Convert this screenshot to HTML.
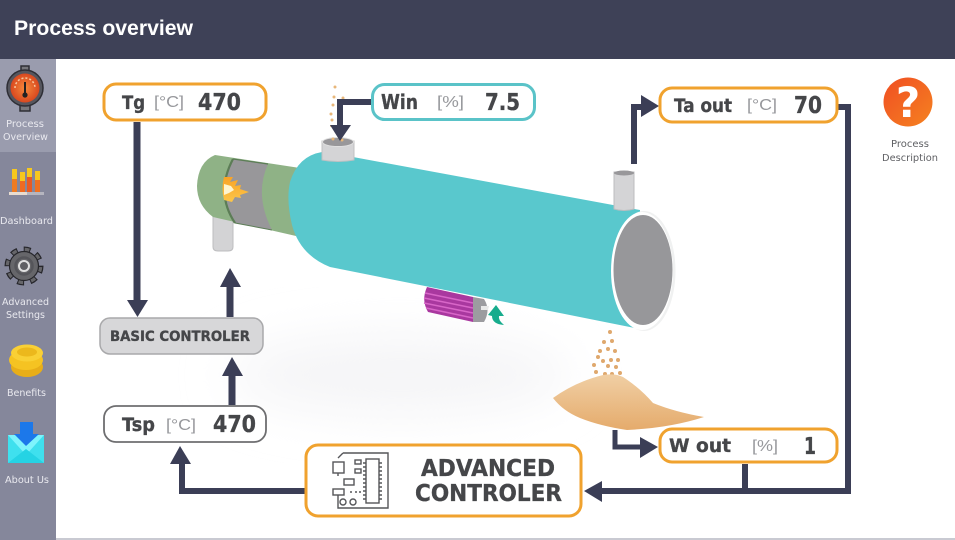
<!DOCTYPE html>
<html><head><meta charset="utf-8"><style>
html,body{margin:0;padding:0;background:#fff;width:955px;height:540px;overflow:hidden}
svg{display:block;font-family:"DejaVu Sans","Liberation Sans",sans-serif}
</style></head><body>
<svg width="955" height="540" viewBox="0 0 955 540" xmlns="http://www.w3.org/2000/svg">
<defs>
<linearGradient id="sand" x1="0" y1="0" x2="0" y2="1"><stop offset="0" stop-color="#f0cfa4"/><stop offset="1" stop-color="#e5ab6c"/></linearGradient>
<linearGradient id="q" x1="0" y1="0" x2="1" y2="1"><stop offset="0" stop-color="#f04e23"/><stop offset="1" stop-color="#f58220"/></linearGradient>
<radialGradient id="gauge"><stop offset="0" stop-color="#f58a3c"/><stop offset="1" stop-color="#d9481f"/></radialGradient>
<linearGradient id="flame" x1="0" y1="0" x2="0" y2="1"><stop offset="0" stop-color="#f9a326"/><stop offset="1" stop-color="#fcc64a"/></linearGradient>
<filter id="b" x="-30%" y="-60%" width="160%" height="220%"><feGaussianBlur stdDeviation="24"/></filter>
</defs>

<rect width="955" height="540" fill="#fff"/>
<!-- header -->
<rect width="955" height="59" fill="#3e4157"/>
<text x="14" y="35" font-family="Liberation Sans" font-size="21.5" font-weight="700" fill="#fff" textLength="179" lengthAdjust="spacingAndGlyphs">Process overview</text>

<!-- sidebar -->
<rect y="59" width="56" height="481" fill="#85879b"/>
<rect y="59" width="56" height="93" fill="#9a9cae"/>
<!-- gauge -->
<rect x="20" y="104" width="10" height="7" fill="#77777c" stroke="#2e2e35" stroke-width="1.500"/>
<rect x="21" y="66" width="8" height="5" fill="#77777c" stroke="#2e2e35" stroke-width="1.500"/>
<circle cx="25" cy="88" r="18" fill="#55565e" stroke="#2e2e35" stroke-width="1.500"/>
<circle cx="25" cy="88" r="14.500" fill="url(#gauge)"/>
<path d="M15 88a10 10 0 0 1 20 0" fill="none" stroke="#f7c9a0" stroke-width="1.500" stroke-dasharray="2 2"/>
<rect x="24" y="82" width="2" height="13" fill="#222"/><circle cx="25" cy="95" r="2.600" fill="#222"/>
<g font-size="10" fill="#e9e9ef">
<text x="6" y="127" textLength="38" lengthAdjust="spacingAndGlyphs">Process</text>
<text x="3" y="140" textLength="45" lengthAdjust="spacingAndGlyphs">Overview</text>
<text x="0" y="224" textLength="53" lengthAdjust="spacingAndGlyphs">Dashboard</text>
<text x="2" y="305" textLength="47" lengthAdjust="spacingAndGlyphs">Advanced</text>
<text x="6" y="318" textLength="39" lengthAdjust="spacingAndGlyphs">Settings</text>
<text x="7" y="396" textLength="39" lengthAdjust="spacingAndGlyphs">Benefits</text>
<text x="5" y="483" textLength="44" lengthAdjust="spacingAndGlyphs">About Us</text>
</g>
<!-- dashboard -->
<g>
<rect x="12" y="169" width="5" height="23" fill="#ee7b22"/><rect x="12" y="169" width="5" height="10" fill="#f7c81e"/>
<rect x="20" y="172" width="5" height="20" fill="#ee6a22"/><rect x="20" y="172" width="5" height="9" fill="#f7c81e"/>
<rect x="27" y="168" width="5" height="24" fill="#ea5a22"/><rect x="27" y="168" width="5" height="9" fill="#f7c81e"/>
<rect x="35" y="171" width="5" height="21" fill="#ee7022"/><rect x="35" y="171" width="5" height="9" fill="#f7c81e"/>
<rect x="9" y="192" width="18" height="3" fill="#e8dcd0"/><rect x="27" y="192" width="17" height="3" fill="#b5b5bf"/>
</g>
<!-- gear -->
<circle cx="24" cy="266" r="16" fill="none" stroke="#26262b" stroke-width="7" stroke-dasharray="6.500 6"/>
<circle cx="24" cy="266" r="16" fill="none" stroke="#66666a" stroke-width="4.500" stroke-dasharray="4.500 8" stroke-dashoffset="-1"/>
<circle cx="24" cy="266" r="14.500" fill="#66666a" stroke="#26262b" stroke-width="1.200"/>
<circle cx="24" cy="266" r="8.500" fill="none" stroke="#55555a" stroke-width="2.500"/>
<circle cx="24" cy="266" r="5" fill="#606064" stroke="#e0e0e0" stroke-width="2"/>
<!-- coins -->
<ellipse cx="27" cy="367" rx="16" ry="10" fill="#e8ae18"/>
<ellipse cx="26" cy="360" rx="17" ry="10" fill="#f5c322"/>
<ellipse cx="27" cy="353" rx="16" ry="8.500" fill="#f9d035"/>
<ellipse cx="27" cy="352" rx="10" ry="4.500" fill="#ecb81c"/>
<!-- mail -->
<rect x="8" y="435" width="36" height="28" fill="#3fe0ee"/>
<path d="M8 435h36l-18 20z" fill="#7ef4fc"/>
<path d="M8 463l18-14 18 14z" fill="#25d3e4"/>
<path d="M20 422h13v12h6L26 446 14 434h6z" fill="#1c78ea"/>
<rect x="56" y="538" width="899" height="2" fill="#c9cad2"/>

<!-- soft shadow -->
<ellipse cx="400" cy="375" rx="170" ry="40" fill="#f5f5f7" filter="url(#b)"/>

<!-- lower pipe behind burner -->
<path d="M213 205 H233 V247 Q233 251 228 251 H218 Q213 251 213 247Z" fill="#d3d3d5" stroke="#bdbdbf"/>
<!-- burner -->
<path d="M215 155 L300 168 L296 236 L213 217 Q197 205 197 186 Q198 162 215 155Z" fill="#8fb286"/>
<path d="M233 159 L268 164 Q254 195 272 230 L235 223 Q215 193 233 159Z" fill="#98979a"/>
<path d="M233 159 Q215 193 235 223" fill="none" stroke="#5c7d56" stroke-width="2.200"/>
<path d="M233 159 L268 164" fill="none" stroke="#5c7d56" stroke-width="1.300"/>
<path d="M235 223 L272 230" fill="none" stroke="#5c7d56" stroke-width="1"/>
<path d="M224 177 L233 177 L230 182 L238 180 L235 186 L241 185 L240 189 L249 192 L240 195 L241 198 L235 197 L232 202 L224 200 Q221 188 224 177Z" fill="url(#flame)"/>
<path d="M224 184 L231 186 L234 190 L229 193 L224 195Z" fill="#fff5cf"/>

<!-- drum -->
<path d="M322 152 Q340 152 353 157 L640 210 L640 329 L330 267 Q300 255 292 225 Q286 200 290 182 Q298 156 322 152Z" fill="#59c8cd"/>
<ellipse cx="644" cy="271" rx="31.500" ry="60" fill="#f0f1f1"/>
<ellipse cx="642" cy="271" rx="31" ry="59" fill="#fff"/>
<ellipse cx="643" cy="270" rx="29.500" ry="55" fill="#97979a"/>

<!-- top inlet -->
<path d="M322 141 V160 Q338 163 354 160 V141Z" fill="#d4d4d6" stroke="#c0c0c2"/>
<ellipse cx="338" cy="142" rx="15.500" ry="4.500" fill="#98979a" stroke="#e0e0e0"/>
<!-- top outlet -->
<path d="M614 172 V209 Q624 212 634 209 V172Z" fill="#d4d4d6" stroke="#bdbdbf"/>
<ellipse cx="624" cy="173" rx="10" ry="2.500" fill="#98979a"/>

<!-- motor -->
<path d="M427 287 L473 297 L473 322 L428 312 Q421 300 427 287Z" fill="#a9389f"/>
<path d="M425 293 L473 303M424 298 L473 308M424 303 L473 313M426 308 L473 318" stroke="#d866c8" stroke-width="1.500"/>
<path d="M473 297 L484 299 Q491 310 484 322 L473 322 Z" fill="#9c9ca0"/>
<path d="M481 306 L489 306 L488 310 L481 310Z" fill="#e8e8e8"/>
<path d="M496 305 L504 316 L499 316 Q498 320 504 325 Q492 324 492 316 L488 315Z" fill="#17ac8d"/>

<!-- particles top -->
<g fill="#e8b77a">
<circle cx="335" cy="87" r="1.500"/><circle cx="334" cy="97" r="1.500"/><circle cx="343" cy="98" r="1.500"/><circle cx="333" cy="105" r="1.500"/><circle cx="331" cy="114" r="1.500"/><circle cx="332" cy="120" r="1.500"/><circle cx="331" cy="126" r="1"/><circle cx="342" cy="140" r="1.500"/><circle cx="333" cy="139" r="1.500"/>
</g>
<!-- particles bottom -->
<g fill="#dfa86d">
<circle cx="610" cy="332" r="2"/><circle cx="604" cy="342" r="2"/><circle cx="612" cy="341" r="2"/><circle cx="600" cy="351" r="2"/><circle cx="608" cy="349" r="2"/><circle cx="615" cy="351" r="2"/><circle cx="598" cy="357" r="2"/><circle cx="603" cy="361" r="2"/><circle cx="611" cy="360" r="2"/><circle cx="618" cy="360" r="2"/><circle cx="594" cy="365" r="2"/><circle cx="608" cy="366" r="2"/><circle cx="616" cy="367" r="2"/><circle cx="596" cy="372" r="2"/><circle cx="605" cy="374" r="2"/><circle cx="612" cy="374" r="2"/><circle cx="620" cy="373" r="2"/>
</g>
<!-- sand -->
<path d="M553 398 Q575 382 603 375 Q615 373 623 377 Q640 388 653 403 Q675 412 704 417 Q670 428 627 430 Q600 426 580 418 Q563 411 553 398Z" fill="url(#sand)"/>

<!-- connectors -->
<g fill="none" stroke="#3b3e56" stroke-width="7">
<path d="M137 122 V302"/>
<path d="M230 317 V286"/>
<path d="M232 405 V374"/>
<path d="M634 164 V107 H645" stroke-width="6"/>
<path d="M838 107 H848 V491 H600" stroke-width="6"/>
<path d="M745 464 V491" stroke-width="6"/>
<path d="M305 491 H182 V464" stroke-width="6"/>
<path d="M371 102 H340 V126" stroke-width="6"/>
<path d="M615 430 V447 H640" stroke-width="5"/>
</g>
<g fill="#3b3e56">
<path d="M127 300 H148 L137.500 317Z"/>
<path d="M220 287 H241 L230 268Z"/>
<path d="M222 376 H243 L232 357Z"/>
<path d="M641 95 L659 106 L641 117Z"/>
<path d="M330 125 H351 L340 141Z"/>
<path d="M640 437 L658 447 L640 458Z"/>
<path d="M602 481 L584 491 L602 502Z"/>
<path d="M170 464 H191 L180 446Z"/>
</g>

<!-- boxes -->
<g fill="#fff" stroke-width="3">
<rect x="104" y="84" width="162" height="36" rx="12" stroke="#f0a22e"/>
<rect x="372.500" y="84.500" width="162" height="35" rx="12" stroke="#5ac3c8"/>
<rect x="660" y="88" width="177" height="34" rx="12" stroke="#f0a22e"/>
<rect x="660" y="429" width="177" height="33" rx="12" stroke="#f0a22e"/>
<rect x="104" y="406" width="162" height="36" rx="12" stroke="#6e6e70" stroke-width="1.800"/>
<rect x="306" y="445" width="275" height="71" rx="12" stroke="#f0a22e"/>
</g>
<rect x="100" y="318" width="163" height="36" rx="10" fill="#d7d7d9" stroke="#a9a9ab" stroke-width="1.500"/>

<!-- box text -->
<g fill="#454649" font-weight="700" stroke="#454649" stroke-width=".35">
<text x="122" y="109" font-size="19" textLength="23" lengthAdjust="spacingAndGlyphs">Tg</text>
<text x="198" y="110" font-size="23" textLength="43" lengthAdjust="spacingAndGlyphs">470</text>
<text x="381" y="109" font-size="20" textLength="37" lengthAdjust="spacingAndGlyphs">Win</text>
<text x="485" y="110" font-size="23" textLength="35" lengthAdjust="spacingAndGlyphs">7.5</text>
<text x="674" y="112" font-size="19" textLength="58" lengthAdjust="spacingAndGlyphs">Ta out</text>
<text x="794" y="113" font-size="23" textLength="28" lengthAdjust="spacingAndGlyphs">70</text>
<text x="669" y="452" font-size="19" textLength="62" lengthAdjust="spacingAndGlyphs">W out</text>
<text x="804" y="454" font-size="23" textLength="12" lengthAdjust="spacingAndGlyphs">1</text>
<text x="122" y="431" font-size="19" textLength="33" lengthAdjust="spacingAndGlyphs">Tsp</text>
<text x="213" y="432" font-size="23" textLength="43" lengthAdjust="spacingAndGlyphs">470</text>
<text x="110" y="341" font-size="14" textLength="140" lengthAdjust="spacingAndGlyphs">BASIC CONTROLER</text>
<text x="421" y="476" font-size="23" textLength="134" lengthAdjust="spacingAndGlyphs">ADVANCED</text>
<text x="415" y="501" font-size="23" textLength="147" lengthAdjust="spacingAndGlyphs">CONTROLER</text>
</g>
<g fill="#97989c" font-size="16" font-family="Liberation Sans">
<text x="154" y="107" textLength="30" lengthAdjust="spacingAndGlyphs">[°C]</text>
<text x="437" y="107" textLength="27" lengthAdjust="spacingAndGlyphs">[%]</text>
<text x="747" y="110" textLength="30" lengthAdjust="spacingAndGlyphs">[°C]</text>
<text x="752" y="451" textLength="26" lengthAdjust="spacingAndGlyphs">[%]</text>
<text x="166" y="430" textLength="30" lengthAdjust="spacingAndGlyphs">[°C]</text>
</g>

<!-- circuit icon -->
<g fill="none" stroke="#555659" stroke-width="1.400">
<path d="M343 453 H388 V508 H338 V494 M338 476 V470 M338 458 L343 453"/>
<rect x="366" y="459" width="13" height="44" fill="#fff"/>
<path d="M366 463h-3M366 467h-3M366 471h-3M366 475h-3M366 479h-3M366 483h-3M366 487h-3M366 491h-3M366 495h-3M366 499h-3M379 463h3M379 467h3M379 471h3M379 475h3M379 479h3M379 483h3M379 487h3M379 491h3M379 495h3M379 499h3"/>
<rect x="333" y="462" width="11" height="11" fill="#fff"/>
<rect x="355" y="460" width="6" height="4"/><rect x="355" y="469" width="6" height="4"/>
<rect x="344" y="479" width="10" height="6"/>
<rect x="333" y="489" width="11" height="6" fill="#fff"/>
<circle cx="343" cy="502" r="3"/><circle cx="353" cy="502" r="3"/>
<path d="M350 492h2M355 492h2M359 492h2"/>
</g>

<!-- process description -->
<circle cx="908" cy="102" r="24.500" fill="url(#q)"/>
<text x="908" y="117" font-size="42" font-weight="700" fill="#fff" text-anchor="middle">?</text>
<g font-size="10" fill="#5f6064">
<text x="891" y="147" textLength="38" lengthAdjust="spacingAndGlyphs">Process</text>
<text x="882" y="161" textLength="56" lengthAdjust="spacingAndGlyphs">Description</text>
</g>
</svg>
</body></html>
